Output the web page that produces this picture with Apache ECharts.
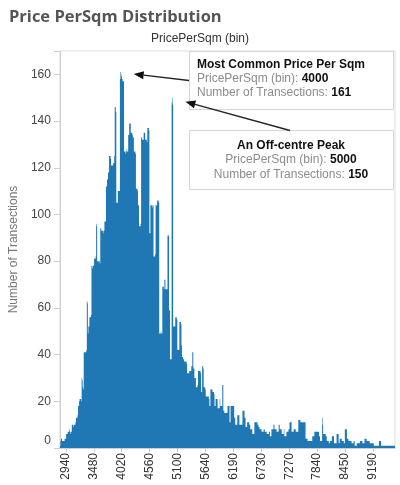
<!DOCTYPE html>
<html>
<head>
<meta charset="utf-8">
<script src="https://cdn.jsdelivr.net/npm/echarts@6/dist/echarts.min.js"></script>
<style>
  html, body { margin: 0; padding: 0; background: #fff; }
  #chart { width: 400px; height: 485px; }
</style>
</head>
<body>
<div id="chart"></div>
<script>
// ---- data ----
const chartTitle = 'Price PerSqm Distribution';
const xHeader = 'PricePerSqm (bin)';
const yName = 'Number of Transections';
const binStart = 2830;
const binStep = 10;
const binEnd = 9610;
// bins with no transactions (Tableau omits empty bins)
const missingBins = [6050, 7530, 7650, 7760, 7910, 8000, 8090, 8170, 8240, 8310, 8390,
  8480, 8510, 8550, 8580, 8620, 8660, 8690, 8730, 8760, 8800, 8840, 8870, 8910, 8940,
  8980, 9020, 9050, 9090, 9120, 9160];
const tickLabels = ['2940', '3480', '4020', '4560', '5100', '5640', '6190', '6730', '7270', '7840', '8450', '9190'];
const yTicks = [0, 20, 40, 60, 80, 100, 120, 140, 160];
const counts = [
  1,3,4,4,3,3,3,3,3,4,4,4,6,6,6,7,7,7,8,7,6,7,7,10,10,
  10,9,10,10,10,11,13,13,13,14,18,18,20,21,21,21,20,30,29,26,25,41,41,41,41,
  41,42,63,62,49,52,52,56,56,56,57,78,78,77,78,78,81,81,81,82,96,95,80,80,
  80,80,80,79,94,94,93,93,93,92,93,93,97,97,97,112,112,115,115,118,118,125,125,125,124,
  121,121,121,121,122,122,125,146,146,144,105,105,105,110,110,110,110,158,161,160,159,157,158,157,157,
  127,127,127,126,127,128,127,127,134,134,139,139,139,135,135,135,134,133,133,127,127,127,126,111,111,
  111,110,104,104,95,95,95,96,133,133,132,132,132,135,135,135,132,132,132,131,137,137,137,136,
  92,92,104,104,104,103,104,104,82,82,82,83,104,104,104,106,106,106,105,49,49,49,50,49,49,
  69,69,69,68,72,72,68,68,68,68,91,91,91,59,59,38,38,38,148,150,147,52,52,52,52,
  56,56,56,55,42,42,42,42,54,54,54,53,44,39,39,38,38,37,37,37,37,37,36,32,32,
  32,32,33,33,33,33,35,35,41,41,34,34,30,30,30,26,26,26,27,33,33,33,33,33,32,
  24,24,35,35,34,26,26,26,25,22,22,22,22,22,22,21,18,18,25,25,25,25,24,24,
  24,23,18,18,21,21,21,21,17,17,17,17,21,18,18,18,18,27,27,16,16,15,15,15,15,
  15,15,18,18,18,18,11,11,18,18,18,18,18,18,18,13,13,10,10,10,10,14,14,14,14,
  10,10,10,10,10,10,16,16,16,16,13,13,9,9,9,11,11,11,11,10,10,8,8,8,8,
  6,6,6,6,11,11,11,11,11,11,10,10,9,9,8,8,8,8,7,7,7,7,8,8,
  7,7,7,7,6,6,6,6,7,7,5,5,5,8,8,8,8,10,10,8,8,8,8,7,7,
  7,7,10,10,8,8,8,8,6,6,6,6,8,5,5,5,5,7,7,7,7,8,8,11,11,
  11,11,7,7,7,7,8,8,8,8,7,7,7,7,7,12,12,12,12,11,11,11,11,11,11,
  11,11,11,11,4,4,4,4,3,3,3,3,3,3,3,3,3,5,5,5,5,7,7,7,
  7,7,7,7,7,7,5,5,3,3,3,3,13,10,6,6,6,6,6,5,5,3,3,3,3,
  2,2,3,3,3,3,5,5,5,5,2,2,2,2,2,6,6,6,6,2,2,4,4,4,4,
  3,3,3,3,2,2,8,8,8,8,4,4,4,3,3,3,3,3,3,2,2,2,2,3,3,
  1,1,1,1,2,2,2,2,2,2,3,3,3,3,3,2,2,2,2,4,4,4,4,3,3,
  3,3,3,3,2,2,2,2,2,2,2,2,1,1,1,1,1,1,1,1,1,1,3,3,
  3,3,1,1,1,1,1,1,1,1,1,1,1,1,1,1,1,1,1,1,1,1,1,1,1,
  1,1,1,1
];
// annotations
const annoTitles = ['Most Common Price Per Sqm', 'An Off-centre Peak'];
const annoBins = ['4000', '5000'];

// ---- build categories ----
const categories = [];
for (let v = binStart; v <= binEnd; v += binStep) {
  if (missingBins.indexOf(v) < 0) categories.push(String(v));
}
if (categories.length !== counts.length) {
  throw new Error('length mismatch ' + categories.length + ' vs ' + counts.length);
}

const FONT = 'Liberation Sans, Arial, sans-serif';
const chart = echarts.init(document.getElementById('chart'), null, { renderer: 'canvas' });
const showTick = (idx, val) => tickLabels.indexOf(val) >= 0;

const option = {
  animation: false,
  backgroundColor: '#fff',
  title: {
    text: chartTitle, left: 4, top: 4,
    textStyle: { fontSize: 16.5, fontWeight: 'bold', color: '#555', fontFamily: 'Open Sans, sans-serif' }
  },
  grid: { left: 55, right: 5, top: 51, bottom: 37, show: true, borderColor: '#dedede', borderWidth: 1 },
  xAxis: {
    type: 'category', data: categories, boundaryGap: true,
    axisLine: { lineStyle: { color: '#cfcfcf' } },
    axisTick: { show: true, interval: showTick, alignWithLabel: true, length: 4, lineStyle: { color: '#c8c8c8' } },
    axisLabel: { interval: showTick, rotate: 90, color: '#333', fontSize: 12, fontFamily: FONT, margin: 5 }
  },
  yAxis: {
    type: 'value', min: 0, max: 170, interval: 20,
    name: yName, nameLocation: 'middle', nameGap: 26,
    nameTextStyle: { color: '#777', fontSize: 12, fontFamily: FONT },
    axisLine: { show: true, lineStyle: { color: '#cfcfcf' } },
    axisTick: { show: true, length: 6, lineStyle: { color: '#cfcfcf' } },
    splitLine: { show: false },
    axisLabel: {
      color: '#444', fontSize: 12, fontFamily: FONT, margin: 9,
      formatter: v => (v === 0 ? '{z|0}' : (yTicks.indexOf(v) >= 0 ? String(v) : '')),
      rich: { z: { color: '#444', fontSize: 12, fontFamily: FONT, padding: [0, 0, 14, 0] } }
    }
  },
  series: [{
    type: 'bar', data: counts, barCategoryGap: '0%', barGap: '0%',
    large: true, largeThreshold: 100,
    itemStyle: { color: '#1f77b4' }
  }]
};
chart.setOption(option);

// ---- annotations ----
function pt(bin) {
  const idx = categories.indexOf(bin);
  return chart.convertToPixel({ seriesIndex: 0 }, [idx, counts[idx]]);
}
function arrow(from, to) {
  const dx = to[0] - from[0], dy = to[1] - from[1];
  const len = Math.sqrt(dx * dx + dy * dy);
  const ux = dx / len, uy = dy / len;
  const hl = 10, hw = 4;
  const bx = to[0] - ux * hl, by = to[1] - uy * hl;
  return [
    { type: 'line', shape: { x1: from[0], y1: from[1], x2: bx, y2: by },
      style: { stroke: '#222', lineWidth: 1.3 }, z: 10 },
    { type: 'polygon', shape: { points: [to, [bx - uy * hw, by + ux * hw], [bx + uy * hw, by - ux * hw]] },
      style: { fill: '#111' }, z: 10 }
  ];
}
const p1 = pt(annoBins[0]);
const p2 = pt(annoBins[1]);
const v1 = counts[categories.indexOf(annoBins[0])];
const v2 = counts[categories.indexOf(annoBins[1])];
const mkRich = lh => ({
  h: { fill: '#111', fontSize: 12, fontWeight: 'bold', fontFamily: FONT, lineHeight: lh },
  g: { fill: '#8c8c8c', fontSize: 12, fontFamily: FONT, lineHeight: lh },
  b: { fill: '#111', fontSize: 12, fontWeight: 'bold', fontFamily: FONT, lineHeight: lh }
});
const graphics = [
  { type: 'text', left: 'center', top: 33,
    style: { text: xHeader, fill: '#333', fontSize: 12, fontFamily: FONT }, z: 10 },
  { type: 'rect', shape: { x: 189.5, y: 51.5, width: 204, height: 58 },
    style: { fill: '#fff', stroke: '#d6d6d6', lineWidth: 1 }, z: 9 },
  { type: 'text', x: 197, y: 58,
    style: { text: '{h|' + annoTitles[0] + '}\n{g|' + xHeader + ': }{b|' + annoBins[0] + '}\n{g|' + yName + ': }{b|' + v1 + '}',
      rich: mkRich(14), fontSize: 12 }, z: 10 },
  { type: 'rect', shape: { x: 189.5, y: 130.5, width: 204, height: 59 },
    style: { fill: '#fff', stroke: '#d6d6d6', lineWidth: 1 }, z: 9 },
  { type: 'text', x: 291, y: 138,
    style: { text: '{h|' + annoTitles[1] + '}\n{g|' + xHeader + ': }{b|' + annoBins[1] + '}\n{g|' + yName + ': }{b|' + v2 + '}',
      rich: mkRich(14.5), align: 'center', fontSize: 12 }, z: 10 }
].concat(arrow([189, 80.5], [p1[0] + 13, p1[1] + 2]))
 .concat(arrow([290, 130.5], [p2[0] + 13, p2[1] + 4]));
chart.setOption({ graphic: graphics });
</script>
</body>
</html>
